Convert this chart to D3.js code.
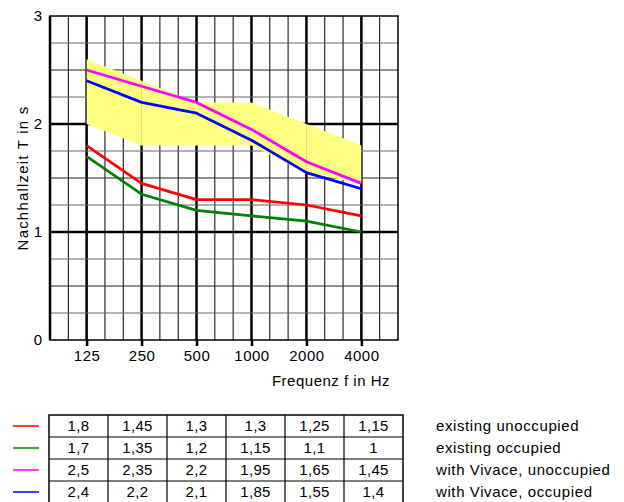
<!DOCTYPE html>
<html>
<head>
<meta charset="utf-8">
<script src="https://cdn.jsdelivr.net/npm/d3@7"></script>
<style>
  body { margin: 0; background: #fff; }
  svg text { font-family: "Liberation Sans", Arial, sans-serif; fill: #000; }
</style>
</head>
<body>
<div class="chart"></div>
<script>
'use strict';

// octave bands
const freqs = ["125", "250", "500", "1000", "2000", "4000"];

const seriesNames = ["existing unoccupied", "existing occupied", "with Vivace, unoccupied", "with Vivace, occupied"];
const seriesColors = ["#ff0000", "#008000", "#ff00ff", "#0000ff"];
const existingUnocc = [1.8, 1.45, 1.3, 1.3, 1.25, 1.15];
const existingOcc = [1.7, 1.35, 1.2, 1.15, 1.1, 1];
const vivaceUnocc = [2.5, 2.35, 2.2, 1.95, 1.65, 1.45];
const vivaceOcc = [2.4, 2.2, 2.1, 1.85, 1.55, 1.4];

// tolerance band (yellow)
const bandUpper = [2.6, 2.4, 2.2, 2.2, 2.0, 1.8];
const bandLower = [2.0, 1.8, 1.8, 1.8, 1.55, 1.45];

const yTicks = [0, 1, 2, 3];

(function() {
    const width = 624, height = 502;
    const margin = {top: 16, left: 50, right: 226, bottom: 162};

    const svg = d3.select('.chart').append('svg')
        .attr('width', width).attr('height', height);

    // x works on third-octave steps, 125 Hz = 0
    const x = d3.scaleLinear().domain([-2, 17]).range([margin.left, width - margin.right]);
    const y = d3.scaleLinear().domain([0, 3]).range([height - margin.bottom, margin.top]);
    const xi = i => x(i * 3);

    // grid
    const grid = svg.append('g');
    const thirds = d3.range(-1, 17);
    grid.selectAll('line.v').data(thirds).enter().append('line')
        .attr('x1', d => x(d)).attr('x2', d => x(d))
        .attr('y1', y(3)).attr('y2', y(0))
        .attr('stroke', '#000')
        .attr('stroke-width', d => d % 3 === 0 ? 2.5 : 1);
    const quarters = d3.range(1, 12).map(d => d / 4);
    grid.selectAll('line.h').data(quarters).enter().append('line')
        .attr('x1', x(-2)).attr('x2', x(17))
        .attr('y1', d => y(d)).attr('y2', d => y(d))
        .attr('stroke', d => d % 1 === 0 ? '#000' : (d % 0.5 === 0 ? '#222' : '#666'))
        .attr('stroke-width', d => d % 1 === 0 ? 2.5 : 1);

    // tolerance band
    const area = d3.area()
        .x((d, i) => xi(i))
        .y0((d, i) => y(bandLower[i]))
        .y1((d, i) => y(bandUpper[i]));
    svg.append('path').datum(freqs)
        .attr('d', area)
        .attr('fill', '#ffff80');

    // faint seams of the band
    [1, 4].forEach(i => {
        svg.append('line')
            .attr('x1', xi(i)).attr('x2', xi(i))
            .attr('y1', y(bandUpper[i])).attr('y2', y(bandLower[i]))
            .attr('stroke', '#d0d080').attr('stroke-width', 0.8);
    });

    // frame
    svg.append('rect')
        .attr('x', x(-2)).attr('y', y(3))
        .attr('width', x(17) - x(-2)).attr('height', y(0) - y(3))
        .attr('fill', 'none').attr('stroke', '#000').attr('stroke-width', 1.5);
    svg.append('line')
        .attr('x1', x(-2)).attr('x2', x(-2)).attr('y1', y(3)).attr('y2', y(0))
        .attr('stroke', '#000').attr('stroke-width', 2.5);

    // curves
    const series = [existingUnocc, existingOcc, vivaceUnocc, vivaceOcc];
    const line = d3.line().x((d, i) => xi(i)).y(d => y(d));
    svg.selectAll('path.curve').data(series).enter().append('path')
        .attr('class', 'curve')
        .attr('d', line)
        .attr('fill', 'none')
        .attr('stroke', (d, i) => seriesColors[i])
        .attr('stroke-width', 2.75)
        .attr('stroke-linejoin', 'round');

    // x axis: ticks + labels
    const xAxis = d3.axisBottom(d3.scalePoint().domain(freqs).range([xi(0), xi(5)]))
        .tickSize(6).tickPadding(4);
    const gx = svg.append('g').attr('transform', 'translate(0,' + y(0) + ')').call(xAxis);
    gx.select('.domain').remove();
    gx.selectAll('.tick line').attr('stroke', '#000').attr('stroke-width', 2.5);
    gx.selectAll('.tick text').attr('font-size', 15).attr('letter-spacing', 0.5)
        .attr('font-family', '"Liberation Sans", Arial, sans-serif');

    // y axis labels
    const yAxis = d3.axisLeft(y).tickValues(yTicks).tickFormat(d3.format('d'))
        .tickSize(0).tickPadding(8);
    const gy = svg.append('g').attr('transform', 'translate(' + x(-2) + ',0)').call(yAxis);
    gy.select('.domain').remove();
    gy.selectAll('.tick text').attr('font-size', 15)
        .attr('font-family', '"Liberation Sans", Arial, sans-serif');

    // axis titles
    svg.append('text')
        .attr('x', 390).attr('y', 386)
        .attr('text-anchor', 'end')
        .attr('font-size', 15).attr('letter-spacing', 0.5)
        .text('Frequenz f in Hz');
    svg.append('text')
        .attr('transform', 'translate(28,' + ((y(0) + y(3)) / 2) + ') rotate(-90)')
        .attr('text-anchor', 'middle')
        .attr('font-size', 15).attr('letter-spacing', 1.2)
        .text('Nachhallzeit T in s');

    // value table
    const table = {left: 49, top: 415, colW: 59, rowH: 22};
    const tx = d3.scaleLinear().domain([0, freqs.length]).range([table.left, table.left + freqs.length * table.colW]);
    const ty = d3.scaleLinear().domain([0, series.length]).range([table.top, table.top + series.length * table.rowH]);

    const tg = svg.append('g');
    tg.selectAll('line.row').data(d3.range(1, series.length)).enter().append('line')
        .attr('x1', tx(0)).attr('x2', tx(freqs.length))
        .attr('y1', d => ty(d)).attr('y2', d => ty(d))
        .attr('stroke', '#000').attr('stroke-width', 1.2);
    tg.selectAll('line.col').data(d3.range(1, freqs.length)).enter().append('line')
        .attr('x1', d => tx(d)).attr('x2', d => tx(d))
        .attr('y1', ty(0)).attr('y2', ty(series.length))
        .attr('stroke', '#000').attr('stroke-width', 1.2);
    tg.append('rect')
        .attr('x', tx(0)).attr('y', ty(0))
        .attr('width', tx(freqs.length) - tx(0)).attr('height', ty(series.length) - ty(0))
        .attr('fill', 'none').attr('stroke', '#000').attr('stroke-width', 1.5);

    const fmt = v => String(v).replace('.', ',');
    series.forEach((vals, r) => {
        tg.selectAll('text.r' + r).data(vals).enter().append('text')
            .attr('x', (d, i) => (tx(i) + tx(i + 1)) / 2)
            .attr('y', ty(r) + table.rowH / 2)
            .attr('dy', '0.36em')
            .attr('text-anchor', 'middle')
            .attr('font-size', 15).attr('letter-spacing', 0.3)
            .text(fmt);

        // legend swatch + name
        tg.append('line')
            .attr('x1', 13).attr('x2', 39)
            .attr('y1', ty(r) + table.rowH / 2).attr('y2', ty(r) + table.rowH / 2)
            .attr('stroke', seriesColors[r]).attr('stroke-width', 1.5);
        tg.append('text')
            .attr('x', 436).attr('y', ty(r) + table.rowH / 2)
            .attr('dy', '0.36em')
            .attr('font-size', 15).attr('letter-spacing', 0.6)
            .text(seriesNames[r]);
    });
})();
</script>
</body>
</html>
